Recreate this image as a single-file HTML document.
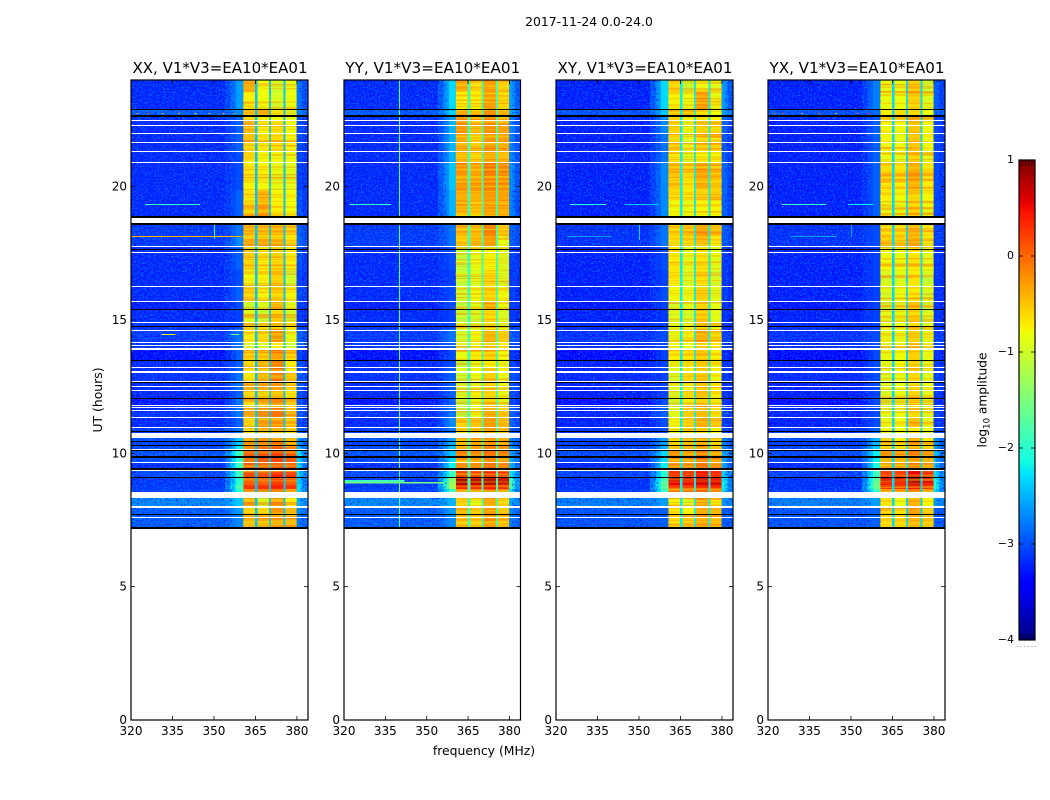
<!DOCTYPE html>
<html lang="en">
<head>
<meta charset="utf-8">
<title>2017-11-24 0.0-24.0</title>
<style>
html,body{margin:0;padding:0;background:#fff;}
svg{display:block;}
text{font-family:"DejaVu Sans","Liberation Sans",sans-serif;fill:#000;}
</style>
</head>
<body>
<svg id="chart" xmlns="http://www.w3.org/2000/svg" width="1050" height="800" viewBox="0 0 1050 800">
<defs>
<filter id="speckleLight" x="0" y="0" width="100%" height="100%" color-interpolation-filters="sRGB">
<feTurbulence type="fractalNoise" baseFrequency="0.62" numOctaves="1" seed="4"/>
<feColorMatrix type="matrix" values="0 0 0 0 0  0 0 0 0 0.6  0 0 0 0 1  3.6 0 0 0 -1.7"/>
</filter>
<filter id="speckleDark" x="0" y="0" width="100%" height="100%" color-interpolation-filters="sRGB">
<feTurbulence type="fractalNoise" baseFrequency="0.58" numOctaves="1" seed="11"/>
<feColorMatrix type="matrix" values="0 0 0 0 0  0 0 0 0 0  0 0 0 0 1  3.6 0 0 0 -1.75"/>
</filter>
<filter id="stripes" x="0" y="0" width="100%" height="100%" color-interpolation-filters="sRGB">
<feTurbulence type="fractalNoise" baseFrequency="0.006 0.42" numOctaves="2" seed="7"/>
<feColorMatrix type="matrix" values="0 0 0 0 1  0 0 0 0 0.38  0 0 0 0 0  4.2 0 0 0 -1.95"/>
</filter>
<filter id="stripesLight" x="0" y="0" width="100%" height="100%" color-interpolation-filters="sRGB">
<feTurbulence type="fractalNoise" baseFrequency="0.006 0.42" numOctaves="2" seed="23"/>
<feColorMatrix type="matrix" values="0 0 0 0 0.95  0 0 0 0 1  0 0 0 0 0  4.2 0 0 0 -1.95"/>
</filter>
</defs>
<text x="589" y="26" font-size="12.4" text-anchor="middle">2017-11-24 0.0-24.0</text>
<text x="0" y="0" font-size="12.4" text-anchor="middle" transform="translate(102,400) rotate(-90)">UT (hours)</text>
<text x="484" y="755" font-size="12.4" text-anchor="middle">frequency (MHz)</text>
<text x="0" y="0" font-size="12.2" text-anchor="middle" transform="translate(986.5,400) rotate(-90)">log<tspan font-size="8.5" dy="3">10</tspan><tspan dy="-3"> amplitude</tspan></text>
<g id="panels"></g>
<g id="colorbar"></g>
</svg>
<script>
// ---- data: UT row edges (hours), shared by all four baselines
const utEdges = [24.00,23.55,22.91,22.65,22.50,22.01,21.68,21.34,20.93,20.44,19.88,19.50,18.86,18.15,17.74,16.88,16.28,15.71,15.41,14.89,14.66,14.18,13.88,13.50,13.24,13.05,12.68,12.38,12.08,11.81,11.36,10.99,10.76,10.46,10.31,10.13,9.90,9.68,9.45,9.11,8.93,8.81,8.66,8.55,8.03,7.69,7.20];
// background log10 amplitude per UT row
const backgroundLevels = [-3.2,-3.2,-2.9,-3.15,-3.2,-3.2,-3.2,-3.2,-3.2,-3.2,-3.2,-3.2,-3.1,-3.1,-3.2,-3.2,-3.2,-3.25,-3.2,-3.15,-3.1,-3.1,-3.35,-3.2,-3.2,-3.15,-3.2,-3.2,-3.3,-3.15,-3.2,-3.1,-2.95,-3.05,-3.0,-2.95,-3.0,-3.15,-3.0,-3.1,-3.1,-3.1,-3.05,-2.65,-2.9,-2.9];
const backgroundOffsets = [0,0,-0.05,-0.05];
// gap level between spectral windows, per panel
const gapLevels = [-2.4,-1.9,-2.2,-2.3];
// edge-of-band level per row
const edgeXX = [-2.6,-2.6,-2.7,-2.9,-2.9,-2.9,-2.9,-3.0,-3.0,-3.0,-2.9,-2.9,-2.8,-2.7,-2.9,-3.0,-2.9,-3.0,-3.05,-3.0,-2.8,-2.8,-2.9,-2.9,-2.9,-2.8,-2.8,-2.9,-2.8,-2.8,-2.9,-2.8,-2.4,-2.4,-2.2,-1.9,-2.0,-1.9,-1.9,-2.0,-2.0,-1.8,-2.0,-2.4,-2.6,-2.7];
const edgeYY = [-2.3,-2.3,-2.35,-2.6,-2.5,-2.5,-2.5,-2.5,-2.4,-2.4,-2.5,-2.5,-2.8,-2.8,-3.0,-3.05,-3.0,-3.0,-3.05,-3.0,-2.8,-2.9,-3.0,-3.0,-2.9,-2.9,-2.9,-2.9,-2.9,-2.8,-2.7,-2.8,-2.6,-2.5,-2.4,-2.4,-2.3,-2.2,-1.9,-1.4,-1.3,-1.3,-1.9,-2.5,-2.6,-2.7];
const edgeXY = [-2.3,-2.3,-2.4,-2.7,-2.7,-2.8,-2.8,-2.8,-2.7,-2.7,-2.7,-2.7,-2.8,-2.8,-3.0,-3.05,-3.0,-3.05,-3.1,-3.05,-3.0,-3.0,-3.05,-3.05,-3.0,-3.05,-3.05,-3.05,-3.0,-2.9,-3.0,-3.0,-2.6,-2.6,-2.5,-2.3,-2.3,-2.2,-2.0,-1.8,-1.7,-1.7,-1.9,-2.6,-2.9,-2.9];
const edgeYX = [-2.75,-2.75,-2.85,-2.95,-2.9,-2.9,-2.9,-2.9,-2.9,-2.9,-2.9,-2.9,-3.0,-3.0,-3.05,-3.05,-3.05,-3.05,-3.05,-3.05,-3.0,-3.0,-3.0,-3.0,-3.0,-3.0,-3.0,-3.05,-3.0,-3.0,-3.0,-2.9,-2.5,-2.5,-2.4,-2.2,-2.2,-2.1,-1.9,-1.7,-1.6,-1.6,-1.9,-2.6,-2.9,-2.9];
// spectral-window levels per row: four windows each
const windowsXX = [[-0.35,-0.8,-1.0,-0.85],[-0.7,-0.8,-1.0,-0.85],[-0.4,-0.3,-0.75,-1.0],[-0.5,-0.7,-0.8,-0.9],[-0.4,-0.7,-0.6,-0.8],[-0.4,-0.7,-0.6,-0.75],[-0.5,-0.65,-0.6,-0.75],[-0.6,-0.8,-0.8,-0.85],[-0.7,-0.75,-0.85,-0.9],[-0.75,-0.8,-0.9,-0.9],[-0.7,-0.4,-0.75,-0.8],[-0.5,-0.3,-0.7,-0.8],[-0.45,-0.5,-0.5,-0.6],[-0.35,-0.35,-0.4,-0.65],[-0.55,-0.65,-0.55,-0.7],[-0.8,-0.75,-0.55,-1.0],[-0.6,-0.75,-0.6,-0.75],[-1.05,-0.95,-0.35,-0.9],[-0.9,-1.05,-0.6,-1.0],[-0.5,-0.6,-0.5,-0.6],[-0.7,-0.6,-0.25,-0.85],[-0.9,-0.9,-0.7,-1.0],[-0.5,-0.45,-0.15,-0.55],[-0.6,-0.4,-0.1,-0.7],[-0.7,-0.5,0,-0.8],[-0.65,-0.3,0.05,-0.4],[-0.4,-0.4,-0.3,-0.6],[-0.5,-0.45,-0.35,-0.6],[-0.6,-0.35,-0.2,-0.5],[-0.4,-0.25,-0.1,-0.5],[-0.55,-0.25,-0.2,-0.4],[-0.6,-0.35,-0.4,-0.7],[-0.4,-0.25,-0.3,-0.5],[-0.3,-0.2,0,-0.4],[-0.25,-0.1,0.1,-0.25],[0.1,0.15,0.3,0.1],[0,0.1,0.2,0.05],[0.3,0.3,0.4,0.25],[0.2,0.15,0.4,0.3],[0.05,0.05,0.25,0.05],[0.1,0.1,0.3,0.1],[0.3,0.3,0.4,0.3],[-0.2,-0.1,0,-0.2],[-0.4,-1.0,-0.3,-0.7],[-0.6,-0.6,-0.2,-0.4],[-0.35,-0.3,-0.25,-0.35]];
const windowsYY = [[-0.45,-0.65,-0.3,-0.55],[-0.7,-0.7,-0.3,-0.6],[-0.4,-0.5,-0.2,-0.4],[-0.4,-0.5,-0.25,-0.5],[-0.25,-0.45,-0.2,-0.3],[-0.3,-0.5,-0.25,-0.3],[-0.3,-0.45,-0.25,-0.35],[-0.4,-0.55,-0.35,-0.45],[-0.2,-0.3,-0.05,-0.15],[-0.3,-0.3,-0.15,-0.2],[-0.35,-0.4,-0.25,-0.3],[-0.4,-0.5,-0.3,-0.35],[-0.35,-0.4,-0.1,-0.5],[-0.55,-0.45,-0.3,-0.85],[-1.1,-0.85,-0.75,-0.95],[-1.1,-0.95,-0.6,-0.95],[-1.0,-0.8,-0.6,-0.8],[-1.15,-0.9,-0.35,-0.85],[-1.1,-1.0,-0.6,-0.95],[-0.9,-0.9,-0.7,-0.9],[-1.0,-0.75,-0.4,-0.55],[-1.0,-0.85,-0.5,-0.7],[-0.85,-0.7,-0.55,-0.8],[-1.1,-0.85,-0.75,-0.85],[-0.9,-0.75,-0.5,-0.75],[-1.05,-0.85,-0.55,-0.85],[-1.0,-0.85,-0.6,-0.8],[-1.0,-0.75,-0.6,-0.85],[-1.2,-0.9,-0.55,-0.9],[-1.1,-0.8,-0.4,-0.55],[-0.6,-0.5,-0.25,-0.4],[-0.7,-0.55,-0.35,-0.5],[-0.4,-0.25,-0.25,-0.4],[-0.4,-0.25,-0.2,-0.35],[-0.35,-0.25,-0.1,-0.2],[-0.15,-0.2,-0.05,-0.15],[-0.25,-0.25,-0.1,-0.3],[-0.1,-0.1,0,-0.15],[0.25,0.25,0.4,0.3],[0.8,0.75,0.8,0.7],[0.75,0.7,0.8,0.7],[0.4,0.35,0.45,0.35],[-0.2,-0.2,0,-0.2],[-0.6,-0.85,-0.35,-0.6],[-0.45,-0.55,-0.25,-0.5],[-0.5,-0.55,-0.3,-0.45]];
const windowsXY = [[-0.6,-1.05,-0.8,-0.9],[-0.75,-0.85,-0.3,-0.85],[-0.5,-0.45,-0.6,-0.8],[-0.55,-0.7,-0.6,-0.7],[-0.6,-0.85,-0.6,-0.65],[-0.6,-0.9,-0.6,-0.6],[-0.55,-0.8,-0.6,-0.6],[-0.7,-0.95,-0.75,-0.75],[-0.5,-0.6,-0.4,-0.5],[-0.5,-0.65,-0.35,-0.45],[-0.65,-0.7,-0.6,-0.55],[-0.8,-0.85,-0.75,-0.75],[-0.6,-0.5,-0.3,-0.45],[-0.65,-0.6,-0.45,-0.7],[-0.7,-0.9,-0.65,-0.9],[-0.7,-0.95,-0.6,-1.0],[-0.8,-0.85,-0.55,-0.9],[-1.0,-0.9,-0.5,-0.9],[-0.95,-1.0,-0.5,-0.9],[-0.9,-0.85,-0.6,-0.85],[-0.85,-0.75,-0.35,-0.6],[-0.85,-0.85,-0.45,-0.6],[-0.7,-0.65,-0.5,-0.75],[-0.85,-0.7,-0.6,-0.8],[-0.9,-0.7,-0.5,-0.7],[-1.0,-0.6,-0.5,-0.8],[-0.9,-0.8,-0.55,-0.75],[-0.95,-0.65,-0.5,-0.7],[-1.05,-0.75,-0.55,-0.75],[-0.9,-0.55,-0.45,-0.65],[-0.8,-0.6,-0.4,-0.55],[-0.85,-0.6,-0.6,-0.8],[-0.65,-0.5,-0.4,-0.65],[-0.5,-0.35,-0.25,-0.5],[-0.5,-0.35,-0.15,-0.45],[-0.2,-0.25,0,-0.2],[-0.3,-0.25,-0.05,-0.25],[-0.2,-0.2,0,-0.2],[0.3,0.25,0.45,0.35],[0.6,0.5,0.65,0.55],[0.55,0.5,0.65,0.6],[0.3,0.3,0.4,0.35],[-0.2,-0.15,0,-0.2],[-0.75,-0.95,-0.4,-0.7],[-0.65,-0.75,-0.35,-0.4],[-0.6,-0.5,-0.35,-0.45]];
const windowsYX = [[-0.85,-0.85,-0.55,-1.0],[-0.85,-0.85,-0.5,-0.95],[-0.7,-0.6,-0.6,-0.85],[-0.75,-0.8,-0.6,-0.85],[-0.8,-0.8,-0.5,-0.8],[-0.8,-0.85,-0.5,-0.8],[-0.8,-0.8,-0.5,-0.8],[-0.85,-0.9,-0.6,-0.85],[-0.65,-0.7,-0.4,-0.7],[-0.65,-0.7,-0.4,-0.7],[-0.7,-0.8,-0.5,-0.75],[-0.85,-0.85,-0.6,-0.85],[-0.65,-0.65,-0.45,-0.7],[-0.6,-0.65,-0.45,-0.8],[-0.8,-0.85,-0.65,-0.9],[-1.0,-0.95,-0.65,-1.05],[-1.0,-0.85,-0.65,-1.0],[-1.0,-0.9,-0.55,-1.0],[-0.95,-0.9,-0.55,-1.0],[-0.9,-0.85,-0.6,-0.9],[-0.85,-0.85,-0.55,-0.85],[-0.9,-0.85,-0.5,-0.8],[-0.85,-0.8,-0.55,-0.85],[-0.9,-0.8,-0.6,-0.9],[-0.9,-0.8,-0.55,-0.85],[-0.95,-0.85,-0.6,-0.9],[-0.95,-0.85,-0.55,-0.85],[-1.0,-0.85,-0.55,-0.85],[-1.0,-0.9,-0.65,-0.9],[-0.95,-0.85,-0.6,-0.9],[-0.85,-0.8,-0.5,-0.85],[-0.85,-0.8,-0.7,-0.9],[-0.55,-0.7,-0.4,-0.65],[-0.45,-0.6,-0.3,-0.55],[-0.45,-0.55,-0.25,-0.45],[-0.3,-0.35,-0.1,-0.25],[-0.3,-0.3,-0.15,-0.3],[-0.25,-0.25,-0.05,-0.2],[0.25,0.25,0.55,0.3],[0.6,0.55,0.8,0.55],[0.55,0.55,0.8,0.55],[0.35,0.35,0.5,0.35],[-0.3,-0.25,-0.1,-0.3],[-0.65,-0.85,-0.4,-0.75],[-0.6,-0.65,-0.3,-0.55],[-0.6,-0.55,-0.35,-0.45]];
// flagged (blank) UT intervals: [start, end] hours
const flaggedWhite = [[22.50,22.46],[22.32,22.29],[22.02,21.99],[21.69,21.65],[21.35,21.31],[20.93,20.89],[18.83,18.64],[17.76,17.72],[17.55,17.51],[16.29,16.26],[15.73,15.69],[14.91,14.87],[14.64,14.61],[14.18,14.14],[14.07,14.04],[13.95,13.88],[13.24,13.20],[13.09,13.01],[12.71,12.68],[12.54,12.51],[12.39,12.36],[11.81,11.78],[11.72,11.68],[11.61,11.57],[11.36,11.33],[10.99,10.95],[10.76,10.59],[10.16,10.13],[9.68,9.64],[9.39,9.36],[8.56,8.34],[8.03,7.95],[7.63,7.59]];
// zero-amplitude (black) UT intervals
const flaggedBlack = [[22.92,22.87],[22.68,22.62],[18.90,18.84],[18.64,18.58],[17.66,17.63],[15.41,15.38],[14.76,14.72],[13.50,13.46],[12.68,12.64],[12.08,12.04],[10.84,10.80],[10.46,10.43],[10.31,10.28],[10.11,10.07],[9.90,9.84],[9.45,9.39],[9.11,9.06],[7.71,7.67],[7.22,7.16]];
// narrowband RFI: [panel, UT, startMHz, endMHz, level]
const rfiLines = [[0,19.35,325,345,-1.9],[0,18.15,320,360,-0.4],[0,14.47,331,336,-0.9],[0,14.47,356,359,-1.5],
[1,19.35,322,337,-1.9],
[2,19.35,325,338,-2.0],[2,19.35,345,357,-2.4],[2,18.15,324,340,-2.6],
[3,19.35,325,341,-1.9],[3,19.35,349,358,-2.2],[3,18.15,328,345,-2.6]];
// broad RFI blocks: [panel, startUT, endUT, startMHz, endMHz, level]
const rfiBlocks = [[1,9.0,8.93,320,342,-1.9],[1,8.93,8.87,320,356,-1.5]];
// isolated RFI dots: [panel, UT, MHz, level]
const rfiDots = [[0,22.78,322,-0.3],[0,22.78,326,0.1],[0,22.78,331,-0.5],[0,22.78,337,-0.2],[0,22.78,343,-0.6],[0,22.78,348,-0.3],[0,22.78,353,-0.4],[0,22.78,357,-0.2],
[3,22.78,322,0.1],[3,22.78,325,0.3],[3,22.78,332,-0.3],[3,22.78,338,0.2],[3,22.78,344,-0.2],[3,22.78,352,0.1],[3,22.78,356,0.3]];
// vertical RFI: [panel, MHz, startUT, endUT, level]
const rfiVerticals = [[0,350,18.6,18.05,-1.9],[1,340,24,7.2,-1.7],[2,350,18.6,18.0,-2.3],[3,350,18.6,18.1,-2.5]];
// frequency channel edges (MHz) and their kinds
const channelEdges = [320,354,356,358,360.6,364.8,365.8,369.9,370.6,375.1,375.8,379.9,382,384];
const channelKinds = ['bg','mid1','mid2','edge','w0','gap','w1','gap','w2','gap','w3','mid2','mid1'];
// axis ticks
const xTicks = [320,335,350,365,380];
const yTicks = [0,5,10,15,20];
const colorbarTicks = [1,0,-1,-2,-3,-4];
const colorbarMinor = [0.95,0.9,0.85,0.8,0.75,-3.75,-3.8,-3.85,-3.9,-3.95];
const panelTitles = ['XX, V1*V3=EA10*EA01','YY, V1*V3=EA10*EA01','XY, V1*V3=EA10*EA01','YX, V1*V3=EA10*EA01'];
const panelKeys = ['xx','yy','xy','yx'];
const windowTables = [windowsXX,windowsYY,windowsXY,windowsYX];
const edgeTables = [edgeXX,edgeYY,edgeXY,edgeYX];

// ---- layout
const NS = 'http://www.w3.org/2000/svg';
const frameLeft = [131,344,556,768];
const frameRight = [308,520.5,733,945];
const plotTop = 80, plotBottom = 720;
const fMin = 320, fMax = 384, utMin = 0, utMax = 24;
const cbLeft = 1019, cbRight = 1035, cbTop = 160, cbBottom = 640, cbMin = -4, cbMax = 1;

function yScale(ut){ return plotBottom - (ut - utMin) / (utMax - utMin) * (plotBottom - plotTop); }
function xScale(p, f){ return frameLeft[p] + (f - fMin) / (fMax - fMin) * (frameRight[p] - frameLeft[p]); }
function cbScale(v){ return cbBottom - (v - cbMin) / (cbMax - cbMin) * (cbBottom - cbTop); }
function interp(t, pts){
  for (let i = 1; i < pts.length; i++) {
    if (t <= pts[i][0]) {
      const a = pts[i-1], b = pts[i];
      return a[1] + (b[1]-a[1]) * (t-a[0]) / (b[0]-a[0]);
    }
  }
  return pts[pts.length-1][1];
}
function jet(v){
  const t = Math.max(0, Math.min(1, (v - cbMin) / (cbMax - cbMin)));
  const r = interp(t, [[0,0],[0.35,0],[0.66,1],[0.89,1],[1,0.5]]);
  const g = interp(t, [[0,0],[0.125,0],[0.375,1],[0.64,1],[0.91,0],[1,0]]);
  const b = interp(t, [[0,0.5],[0.11,1],[0.34,1],[0.65,0],[1,0]]);
  return 'rgb(' + Math.round(r*255) + ',' + Math.round(g*255) + ',' + Math.round(b*255) + ')';
}
function make(tag, attrs, parent){
  const el = document.createElementNS(NS, tag);
  for (const k in attrs) el.setAttribute(k, attrs[k]);
  parent.appendChild(el);
  return el;
}
function cellLevel(p, r, kind){
  const bg = backgroundLevels[r] + backgroundOffsets[p];
  const edge = edgeTables[p][r];
  if (kind === 'bg') return bg;
  if (kind === 'edge') return edge;
  if (kind === 'mid1') return (2 * bg + edge) / 3;
  if (kind === 'mid2') return (bg + 2 * edge) / 3;
  if (kind === 'gap') return gapLevels[p];
  return windowTables[p][r][Number(kind.slice(1))];
}

const panelsRoot = document.getElementById('panels');
panelTitles.forEach(function(title, p){
  const g = make('g', {}, panelsRoot);
  
  

  const cells = make('g', {'shape-rendering':'crispEdges'}, g);
  
  
  for (let r = 0; r < utEdges.length - 1; r++) {
    for (let c = 0; c < channelKinds.length; c++) {
      const x0 = xScale(p, channelEdges[c]), x1 = xScale(p, channelEdges[c+1]);
      const y0 = yScale(utEdges[r]), y1 = yScale(utEdges[r+1]);
      const cell = make('rect', {x:x0, y:y0, width:x1-x0, height:y1-y0, fill:jet(cellLevel(p, r, channelKinds[c]))}, cells);
      
      
    }
  }

  // speckle and row-stripe textures over the cells
  const dataTop = yScale(utEdges[0]), dataBottom = yScale(utEdges[utEdges.length-1]);
  [['speckleLight',0.75],['speckleDark',0.7]].forEach(function(s){
    make('rect', {x:xScale(p,320), y:dataTop, width:xScale(p,357)-xScale(p,320), height:dataBottom-dataTop, filter:'url(#'+s[0]+')', opacity:s[1]}, g);
    make('rect', {x:xScale(p,381), y:dataTop, width:xScale(p,384)-xScale(p,381), height:dataBottom-dataTop, filter:'url(#'+s[0]+')', opacity:s[1]}, g);
  });
  channelKinds.forEach(function(kind, c){
    if (kind.charAt(0) !== 'w') return;
    [['stripes',0.5],['stripesLight',0.45]].forEach(function(s){
      make('rect', {x:xScale(p,channelEdges[c]), y:dataTop, width:xScale(p,channelEdges[c+1])-xScale(p,channelEdges[c]), height:dataBottom-dataTop, filter:'url(#'+s[0]+')', opacity:s[1]}, g);
    });
  });

  const rfi = make('g', {'shape-rendering':'crispEdges'}, g);
  
  
  rfiLines.filter(function(d){ return d[0] === p; }).forEach(function(d){
    const line = make('rect', {x:xScale(p,d[2]), y:Math.round(yScale(d[1])), width:xScale(p,d[3])-xScale(p,d[2]), height:1, fill:jet(d[4])}, rfi);
    
    
  });
  rfiBlocks.filter(function(d){ return d[0] === p; }).forEach(function(d){
    const block = make('rect', {x:xScale(p,d[3]), y:yScale(d[1]), width:xScale(p,d[4])-xScale(p,d[3]), height:yScale(d[2])-yScale(d[1]), fill:jet(d[5])}, rfi);
    
    
  });
  rfiDots.filter(function(d){ return d[0] === p; }).forEach(function(d){
    const dot = make('rect', {x:xScale(p,d[2]), y:Math.round(yScale(d[1])), width:2, height:1, fill:jet(d[3])}, rfi);
    
    
  });
  rfiVerticals.filter(function(d){ return d[0] === p; }).forEach(function(d){
    const line = make('rect', {x:xScale(p,d[1]), y:yScale(d[2]), width:1, height:yScale(d[3])-yScale(d[2]), fill:jet(d[4])}, rfi);
    
    
  });

  const flags = make('g', {'shape-rendering':'crispEdges'}, g);
  
  
  flaggedBlack.forEach(function(d){
    const y0 = Math.round(yScale(d[0]));
    const band = make('rect', {x:frameLeft[p], y:y0, width:frameRight[p]-frameLeft[p], height:Math.max(1,Math.round(yScale(d[1])-yScale(d[0]))), fill:'#000'}, flags);
    
    
  });
  flaggedWhite.forEach(function(d){
    const y0 = Math.round(yScale(d[0]));
    const band = make('rect', {x:frameLeft[p], y:y0, width:frameRight[p]-frameLeft[p], height:Math.max(1,Math.round(yScale(d[1])-yScale(d[0]))), fill:'#fff'}, flags);
    
    
  });

  const frame = make('rect', {x:frameLeft[p], y:plotTop, width:frameRight[p]-frameLeft[p], height:plotBottom-plotTop, fill:'none', stroke:'#000', 'stroke-width':1.2}, g);
  
  

  xTicks.forEach(function(t){
    const x = xScale(p, t);
    const tb = make('line', {x1:x, x2:x, y1:plotBottom, y2:plotBottom-4, stroke:'#000', 'stroke-width':0.8}, g);
    
    
    const tt = make('line', {x1:x, x2:x, y1:plotTop, y2:plotTop+4, stroke:'#000', 'stroke-width':0.8}, g);
    
    
    const lab = make('text', {x:x, y:735, 'font-size':12, 'text-anchor':'middle'}, g);
    lab.textContent = String(t);
    
    
  });
  yTicks.forEach(function(t){
    const y = yScale(t);
    const tl = make('line', {x1:frameLeft[p], x2:frameLeft[p]+4, y1:y, y2:y, stroke:'#000', 'stroke-width':0.8}, g);
    
    
    const tr = make('line', {x1:frameRight[p], x2:frameRight[p]-4, y1:y, y2:y, stroke:'#000', 'stroke-width':0.8}, g);
    
    
    const lab = make('text', {x:frameLeft[p]-4, y:y+4, 'font-size':12, 'text-anchor':'end'}, g);
    lab.textContent = String(t);
    
    
  });
  const ttl = make('text', {x:(frameLeft[p]+frameRight[p])/2 + 0.5, y:73, 'font-size':15, 'text-anchor':'middle', textLength:175, lengthAdjust:'spacingAndGlyphs'}, g);
  ttl.textContent = title;
  
  
});

// ---- colorbar
const cbRoot = document.getElementById('colorbar');
const cbStops = 256;
const cbGrad = make('g', {'shape-rendering':'crispEdges'}, cbRoot);


for (let i = 0; i < cbStops; i++) {
  const v0 = cbMin + (cbMax - cbMin) * i / cbStops;
  const v1 = cbMin + (cbMax - cbMin) * (i + 1) / cbStops;
  make('rect', {x:cbLeft, y:cbScale(v1), width:cbRight-cbLeft, height:cbScale(v0)-cbScale(v1)+0.6, fill:jet((v0+v1)/2)}, cbGrad);
}
const cbFrame = make('rect', {x:cbLeft, y:cbTop, width:cbRight-cbLeft, height:cbBottom-cbTop, fill:'none', stroke:'#000', 'stroke-width':1.2}, cbRoot);


colorbarTicks.forEach(function(t){
  const y = cbScale(t);
  const l = make('line', {x1:cbLeft, x2:cbLeft+4, y1:y, y2:y, stroke:'#000', 'stroke-width':0.8}, cbRoot);
  
  
  const r = make('line', {x1:cbRight, x2:cbRight-4, y1:y, y2:y, stroke:'#000', 'stroke-width':0.8}, cbRoot);
  
  
  const lab = make('text', {x:1014, y:y+3, 'font-size':11, 'text-anchor':'end'}, cbRoot);
  lab.textContent = (t < 0 ? '\u2212' + Math.abs(t) : String(t));
  
  
});
[0,1,2,3,4,5].forEach(function(i){
  const f = cbLeft - 2 + i * 3.6;
  const dot = make('rect', {x:f, y:646, width:1, height:1, fill:'#999'}, cbRoot);
  
  
});
colorbarMinor.forEach(function(v){
  [3,6.5,10,13].forEach(function(dx){
    if (v > 0.85 || v < -3.85) {
      const m = make('line', {x1:cbLeft+dx, x2:cbLeft+dx, y1:v>0?cbTop:cbBottom, y2:v>0?cbTop+6:cbBottom-6, stroke:'#000', 'stroke-width':0.4}, cbRoot);
      
      
    }
  });
});
</script>
</body>
</html>
